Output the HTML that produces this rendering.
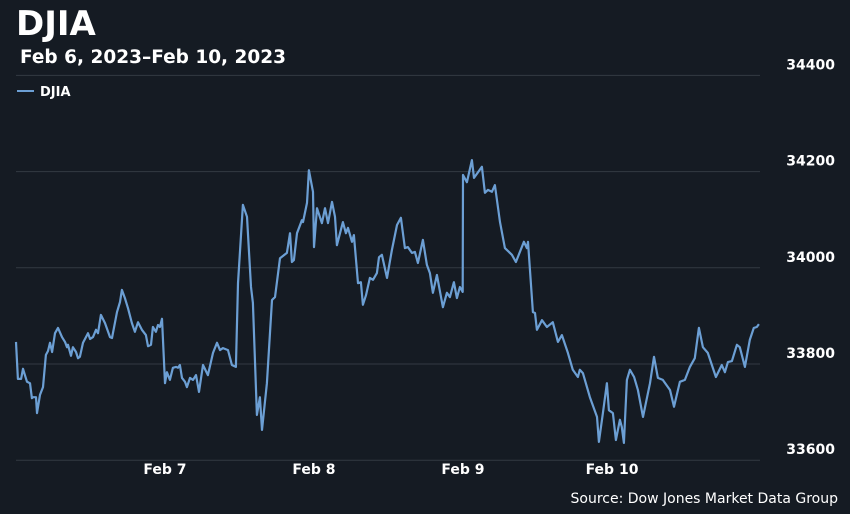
<!DOCTYPE html>
<html><head><meta charset="utf-8"><style>
html,body{margin:0;padding:0;background:#151b23;}
body{width:850px;height:510px;overflow:hidden;font-family:"DejaVu Sans","Liberation Sans",sans-serif;}
svg text{font-family:"DejaVu Sans","Liberation Sans",sans-serif;}
</style></head><body>
<svg id="chart" width="850" height="510" xmlns="http://www.w3.org/2000/svg">
<rect width="850" height="510" fill="#151b23"/>
<text x="16" y="35" fill="#ffffff" font-size="34" font-weight="bold">DJIA</text>
<text x="20" y="63" fill="#ffffff" font-size="18.5" font-weight="bold">Feb 6, 2023–Feb 10, 2023</text>
<g>
<line x1="17" y1="91" x2="34" y2="91" stroke="#6c9fd4" stroke-width="2"/>
<text x="40" y="96" fill="#ffffff" font-size="13" font-weight="bold">DJIA</text>
</g>
<g id="grid"></g><g id="yt"></g><g id="xt"></g>
<path id="line" fill="none" stroke="#6c9fd4" stroke-width="2.2" stroke-linejoin="round"/>
<text x="838" y="503" fill="#ffffff" font-size="14" text-anchor="end">Source: Dow Jones Market Data Group</text>
</svg>
<script>
const times=[0,.013,.034,.047,.060,.074,.094,.107,.114,.134,.141,.161,.181,.201,.215,.228,.242,.262,.282,.309,.329,.342,.349,.369,.382,.403,.416,.429,.450,.483,.497,.517,.537,.550,.570,.597,.631,.644,.678,.698,.711,.731,.752,.778,.798,.819,.845,.872,.886,.906,.919,.939,.953,.966,.980,
1.000,1.013,1.033,1.053,1.074,1.087,1.100,1.114,1.134,1.147,1.168,1.188,1.208,1.228,1.255,1.288,1.322,1.349,1.369,1.389,1.423,1.449,1.476,
1.490,1.523,1.550,1.577,1.590,1.617,1.637,1.651,1.684,1.718,1.738,1.772,1.818,1.839,1.852,1.865,1.886,1.919,1.926,1.953,1.966,1.993,
2.000,2.020,2.053,2.074,2.094,2.121,2.141,2.154,2.194,2.214,2.228,2.255,2.268,2.295,2.315,2.328,2.349,2.375,2.396,2.422,2.436,2.456,2.490,2.523,2.557,2.583,2.610,2.630,2.657,2.677,2.697,2.731,2.758,2.778,2.798,2.825,2.865,2.892,2.912,2.939,2.959,2.979,2.998,
3.000,3.026,3.060,3.074,3.127,3.147,3.167,3.194,3.214,3.248,3.281,3.328,3.355,3.409,3.429,3.436,3.469,3.483,3.496,3.530,3.563,3.603,3.637,3.664,3.704,3.737,3.771,3.784,3.805,3.852,3.899,3.912,3.939,3.966,3.979,
4.006,4.026,4.053,4.066,4.080,4.100,4.120,4.148,4.174,4.208,4.255,4.282,4.308,4.341,4.389,4.416,4.456,4.489,4.523,4.556,4.583,4.610,4.643,4.697,4.737,4.758,4.778,4.805,4.838,4.858,4.892,4.925,4.952,4.972,4.986];
const values=[33846,33769,33769,33790,33777,33763,33760,33729,33731,33731,33698,33736,33752,33819,33827,33844,33825,33864,33875,33856,33846,33835,33840,33817,33835,33825,33812,33815,33844,33864,33852,33856,33871,33864,33902,33885,33856,33854,33908,33929,33954,33937,33916,33885,33867,33887,33871,33860,33837,33840,33877,33867,33881,33877,33894,
33760,33783,33767,33792,33794,33792,33798,33771,33763,33752,33771,33767,33777,33742,33798,33777,33823,33844,33829,33833,33829,33798,33794,
33968,34131,34106,33960,33927,33694,33731,33663,33760,33933,33939,34020,34031,34072,34012,34016,34072,34099,34095,34135,34203,34158,
34043,34124,34093,34124,34093,34137,34106,34047,34095,34072,34083,34054,34068,33968,33970,33923,33943,33979,33975,33989,34022,34027,33979,34037,34089,34104,34041,34043,34031,34033,34010,34058,34006,33989,33948,33985,33918,33948,33939,33970,33937,33960,33950,
34193,34178,34224,34187,34210,34156,34162,34158,34172,34095,34041,34027,34012,34054,34041,34054,33908,33906,33871,33891,33877,33887,33846,33860,33823,33788,33773,33788,33781,33731,33690,33638,33698,33760,33704,
33698,33642,33684,33669,33636,33767,33788,33773,33746,33690,33760,33815,33771,33767,33746,33711,33763,33767,33794,33812,33875,33835,33823,33773,33798,33783,33804,33806,33840,33835,33794,33850,33875,33877,33883];
const yTicks=[33600,33800,34000,34200,34400];
const xTickPos=[1,2,3,4];
const xTickLabels=["Feb 7","Feb 8","Feb 9","Feb 10"];

const NS="http://www.w3.org/2000/svg";
const X0=16,DAYW=149;
function xs(t){return X0+t*DAYW;}
function ys(v){return 364-(v-33800)*0.481;}

const grid=document.getElementById('grid'),yt=document.getElementById('yt'),xt=document.getElementById('xt');
yTicks.forEach(v=>{
  const l=document.createElementNS(NS,'line');
  l.setAttribute('x1',16);l.setAttribute('x2',760);
  l.setAttribute('y1',ys(v));l.setAttribute('y2',ys(v));
  l.setAttribute('stroke','#333a43');l.setAttribute('stroke-width','1');
  
  
  grid.appendChild(l);
  const t=document.createElementNS(NS,'text');
  t.setAttribute('x',835);t.setAttribute('y',ys(v)-6);
  t.setAttribute('text-anchor','end');t.setAttribute('fill','#ffffff');
  t.setAttribute('font-size','14');t.setAttribute('font-weight','bold');
  t.textContent=v;
  
  
  yt.appendChild(t);
});
xTickPos.forEach((p,i)=>{
  const t=document.createElementNS(NS,'text');
  t.setAttribute('x',xs(p));t.setAttribute('y',474);
  t.setAttribute('text-anchor','middle');t.setAttribute('fill','#ffffff');
  t.setAttribute('font-size','14');t.setAttribute('font-weight','bold');
  t.textContent=xTickLabels[i];
  
  
  xt.appendChild(t);
});
let d='';
times.forEach((t,i)=>{d+=(i?'L':'M')+xs(t).toFixed(1)+','+ys(values[i]).toFixed(1);});
document.getElementById('line').setAttribute('d',d);
</script>
</body></html>
